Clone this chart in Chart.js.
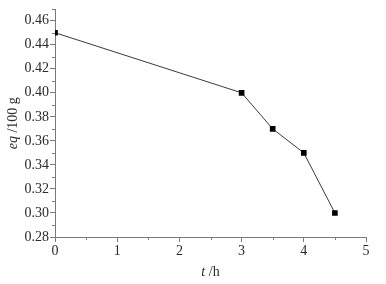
<!DOCTYPE html>
<html>
<head>
<meta charset="utf-8">
<script src="https://cdn.jsdelivr.net/npm/chart.js@4/dist/chart.umd.min.js"></script>
<style>
  html, body { margin: 0; padding: 0; background: #fff; }
  #wrap { width: 386px; height: 284px; }
</style>
</head>
<body>
<div id="wrap"><canvas id="eqChart"></canvas></div>
<script>
(function () {
    'use strict';

    // data
    var hours = [0, 3, 3.5, 4, 4.5];
    var eqValues = [0.45, 0.40, 0.37, 0.35, 0.30];
    var yTicks = [0.28, 0.30, 0.32, 0.34, 0.36, 0.38, 0.40, 0.42, 0.44, 0.46];
    var xTicks = [0, 1, 2, 3, 4, 5];

    var axisColor = '#7a7a7a';
    var textColor = '#2a2a2a';
    var serif = "'Liberation Serif', 'Times New Roman', Times, serif";

    // small minor ticks + the two axis titles (italic symbol, upright unit)
    var extras = {
        id: 'extras',
        afterDraw: function (chart) {
            var ctx = chart.ctx;
            var xs = chart.scales.x, ys = chart.scales.y;
            var area = chart.chartArea;
            ctx.save();
            ctx.strokeStyle = axisColor;
            ctx.lineWidth = 1;
            ctx.beginPath();
            for (var i = 0; i < xTicks.length - 1; i++) {
                var px = Math.round(xs.getPixelForValue(xTicks[i] + 0.5)) + 0.5;
                ctx.moveTo(px, area.bottom);
                ctx.lineTo(px, area.bottom + 3);
            }
            for (var j = 0; j < yTicks.length; j++) {
                var py = Math.round(ys.getPixelForValue(yTicks[j] + 0.01)) + 0.5;
                if (py < area.top) continue;
                ctx.moveTo(area.left, py);
                ctx.lineTo(area.left - 3, py);
            }
            ctx.stroke();

            ctx.fillStyle = textColor;
            ctx.textBaseline = 'middle';
            // x title
            var cx = (area.left + area.right) / 2;
            ctx.font = 'italic 14px ' + serif;
            var w1 = ctx.measureText('t').width;
            ctx.font = '14px ' + serif;
            var w2 = ctx.measureText(' /h').width;
            var sx = cx - (w1 + w2) / 2;
            ctx.textAlign = 'left';
            ctx.font = 'italic 14px ' + serif;
            ctx.fillText('t', sx, 272);
            ctx.font = '14px ' + serif;
            ctx.fillText(' /h', sx + w1, 272);
            // y title
            ctx.translate(13, (area.top + area.bottom) / 2);
            ctx.rotate(-Math.PI / 2);
            ctx.font = 'italic 14px ' + serif;
            var v1 = ctx.measureText('eq').width;
            ctx.font = '14px ' + serif;
            var v2 = ctx.measureText(' /100 g').width;
            var sy = -(v1 + v2) / 2;
            ctx.font = 'italic 14px ' + serif;
            ctx.fillText('eq', sy, 0);
            ctx.font = '14px ' + serif;
            ctx.fillText(' /100 g', sy + v1, 0);
            ctx.restore();
        }
    };

    new Chart(document.getElementById('eqChart'), {
        type: 'line',
        data: {
            datasets: [{
                data: hours.map(function (h, i) { return { x: h, y: eqValues[i] }; }),
                borderColor: '#3a3a3a',
                borderWidth: 1,
                pointStyle: 'rect',
                pointRadius: 4,
                pointBackgroundColor: '#000',
                pointBorderColor: '#000',
                pointBorderWidth: 0,
                tension: 0,
            }],
        },
        options: {
            responsive: true,
            maintainAspectRatio: false,
            animation: false,
            layout: { padding: { top: 5, right: 20, left: 0, bottom: 0 } },
            plugins: {
                legend: { display: false },
                tooltip: { enabled: false },
            },
            scales: {
                x: {
                    type: 'linear',
                    min: 0,
                    max: 5,
                    afterFit: function (s) { s.height = 47; },
                    afterBuildTicks: function (s) {
                        s.ticks = xTicks.map(function (v) { return { value: v }; });
                    },
                    border: { color: axisColor, width: 1 },
                    grid: { drawOnChartArea: false, drawTicks: true, tickLength: 5, tickColor: axisColor },
                    ticks: { color: textColor, padding: 1, font: { family: serif, size: 14 } },
                },
                y: {
                    min: 0.28,
                    max: 0.4694,
                    afterFit: function (s) { s.width = 55; },
                    afterBuildTicks: function (s) {
                        s.ticks = yTicks.map(function (v) { return { value: v }; });
                    },
                    border: { color: axisColor, width: 1 },
                    grid: { drawOnChartArea: false, drawTicks: true, tickLength: 5, tickColor: axisColor },
                    ticks: {
                        color: textColor,
                        padding: 1,
                        font: { family: serif, size: 14 },
                        callback: function (v) { return v.toFixed(2); },
                    },
                },
            },
        },
        plugins: [extras],
    });
})();
</script>
</body>
</html>
